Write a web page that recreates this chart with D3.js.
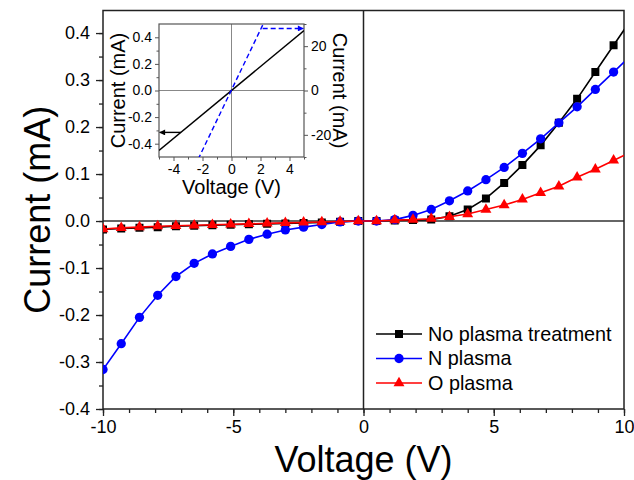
<!DOCTYPE html>
<html><head><meta charset="utf-8">
<script src="https://cdn.jsdelivr.net/npm/d3@7"></script>
<style>body{margin:0;background:#fff} text{font-family:Arial,"Liberation Sans",sans-serif;fill:#000}</style>
</head><body><svg id="c" width="634" height="480"></svg>
<script>
// ---- Main chart data ----
const voltage = [-10,-9.3,-8.6,-7.9,-7.2,-6.5,-5.8,-5.1,-4.4,-3.7,-3.0,-2.3,-1.6,-0.9,-0.2,
                 0.5,1.2,1.9,2.6,3.3,4.0,4.7,5.4,6.1,6.8,7.5,8.2,8.9,9.6,10.3];
const noPlasma = [-0.018,-0.016,-0.0145,-0.013,-0.011,-0.010,-0.009,-0.008,-0.007,-0.006,-0.005,-0.004,-0.003,-0.0015,0.000,
                  0.000,0.001,0.002,0.003,0.010,0.0245,0.048,0.081,0.119,0.161,0.209,0.260,0.317,0.374,0.431];
const nPlasma = [-0.316,-0.261,-0.205,-0.158,-0.118,-0.090,-0.070,-0.054,-0.039,-0.028,-0.019,-0.013,-0.0075,-0.002,0.000,
                 0.000,0.003,0.012,0.0245,0.043,0.064,0.088,0.114,0.144,0.175,0.209,0.243,0.280,0.317,0.354];
const oPlasma = [-0.017,-0.0145,-0.013,-0.011,-0.010,-0.009,-0.008,-0.007,-0.006,-0.005,-0.004,-0.003,-0.002,-0.001,0.000,
                 0.000,0.002,0.003,0.005,0.009,0.015,0.0245,0.034,0.046,0.060,0.074,0.093,0.110,0.129,0.148];
const seriesNames = ["No plasma treatment","N plasma","O plasma"];
const xTicks = [-10,-5,0,5,10];
const yTicks = [-0.4,-0.3,-0.2,-0.1,0.0,0.1,0.2,0.3,0.4];

// ---- Inset data ----
const insetV = [-5, 5];
const insetI = [-0.45, 0.45];          // left axis (mA)
const insetBlueV = [-2.3, 2.15];
const insetBlueI = [-31, 29.5];        // right axis (mA)
const insetXTicks = [-4,-2,0,2,4];
const insetYTicks = [-0.4,-0.2,0.0,0.2,0.4];
const insetY2Ticks = [-20,0,20];

const svg = d3.select("#c");
const L=103, R=624, T=10.5, B=409;
const x = d3.scaleLinear().domain([-10,10]).range([L,R]);
const y = d3.scaleLinear().domain([-0.4,0.448]).range([B,T]);

svg.append("defs").append("clipPath").attr("id","clip")
  .append("rect").attr("x",L).attr("y",T).attr("width",R-L).attr("height",B-T);

const axCol="#222";
// zero lines
svg.append("line").attr("x1",L).attr("x2",R).attr("y1",y(0)).attr("y2",y(0)).attr("stroke","#333").attr("stroke-width",1.5);
svg.append("line").attr("x1",x(0)).attr("x2",x(0)).attr("y1",T).attr("y2",B).attr("stroke","#222").attr("stroke-width",1.5);

// axes
function styleAxis(g){ g.select(".domain").remove(); g.selectAll("line").attr("stroke",axCol).attr("stroke-width",1.3); }
svg.append("g").attr("transform",`translate(0,${B})`)
  .call(d3.axisBottom(x).tickValues(d3.range(-10,11,1)).tickSize(4).tickFormat("")).call(styleAxis);
svg.append("g").attr("transform",`translate(0,${B})`)
  .call(d3.axisBottom(x).tickValues(xTicks).tickSize(7).tickPadding(4).tickFormat(d=>String(d))).call(styleAxis)
  .selectAll("text").attr("font-size","18px");
svg.append("g").attr("transform",`translate(${L},0)`)
  .call(d3.axisLeft(y).tickValues(d3.range(-8,9,1).map(d=>d*0.05)).tickSize(4).tickFormat("")).call(styleAxis);
svg.append("g").attr("transform",`translate(${L},0)`)
  .call(d3.axisLeft(y).tickValues(yTicks).tickSize(7).tickPadding(6).tickFormat(d=>d.toFixed(1))).call(styleAxis)
  .selectAll("text").attr("font-size","18px");
// frame
svg.append("rect").attr("x",L).attr("y",T).attr("width",R-L).attr("height",B-T)
  .attr("fill","none").attr("stroke",axCol).attr("stroke-width",1.5);

// titles
svg.append("text").attr("x",(L+R)/2).attr("y",472).attr("text-anchor","middle").attr("font-size","36px").text("Voltage (V)");
svg.append("text").attr("transform",`translate(50,${(T+B)/2}) rotate(-90)`).attr("text-anchor","middle").attr("font-size","36px").text("Current (mA)");

// series
const series = [
  {name:seriesNames[0], vals:noPlasma, color:"#000000", sym:d3.symbolSquare, size:64},
  {name:seriesNames[1], vals:nPlasma, color:"#0000ff", sym:d3.symbolCircle, size:68},
  {name:seriesNames[2], vals:oPlasma, color:"#ff0000", sym:d3.symbolTriangle, size:52}
];
const plot = svg.append("g").attr("clip-path","url(#clip)");
const line = d3.line().x(d=>x(d[0])).y(d=>y(d[1]));
series.forEach(s=>{
  const pts = voltage.map((v,i)=>[v,s.vals[i]]);
  const g = plot.append("g");
  g.append("path").datum(pts).attr("d",line).attr("fill","none").attr("stroke",s.color).attr("stroke-width",1.6);
  g.selectAll("path.m").data(pts).enter().append("path").attr("class","m")
    .attr("transform",d=>`translate(${x(d[0])},${y(d[1])})`)
    .attr("d",d3.symbol().type(s.sym).size(s.size)).attr("fill",s.color);
});

// legend
series.forEach((s,i)=>{
  const yy = 334 + i*24.5;
  svg.append("line").attr("x1",376).attr("x2",422).attr("y1",yy).attr("y2",yy).attr("stroke",s.color).attr("stroke-width",1.6);
  svg.append("path").attr("transform",`translate(399,${yy})`).attr("d",d3.symbol().type(s.sym).size(s.size)).attr("fill",s.color);
  svg.append("text").attr("x",428).attr("y",yy).attr("dy","0.35em").attr("font-size","19.8px").text(s.name);
});

// ---- inset ----
const iL=159, iR=304, iT=24, iB=157;
const ix = d3.scaleLinear().domain([-5,5]).range([iL,iR]);
const iy = d3.scaleLinear().domain([-0.5,0.5]).range([iB,iT]);
const iy2 = d3.scaleLinear().domain([-30,30]).range([iB,iT]);
const inset = svg.append("g");
inset.append("rect").attr("x",iL).attr("y",iT).attr("width",iR-iL).attr("height",iB-iT).attr("fill","#fff");
svg.select("defs").append("clipPath").attr("id","iclip")
  .append("rect").attr("x",iL).attr("y",iT).attr("width",iR-iL).attr("height",iB-iT);
inset.append("line").attr("x1",iL).attr("x2",iR).attr("y1",iy(0)).attr("y2",iy(0)).attr("stroke","#888").attr("stroke-width",1);
inset.append("line").attr("x1",ix(0)).attr("x2",ix(0)).attr("y1",iT).attr("y2",iB).attr("stroke","#888").attr("stroke-width",1);
const icol="#555";
function iStyle(g){ g.select(".domain").remove(); g.selectAll("line").attr("stroke",icol).attr("stroke-width",1); g.selectAll("text").attr("font-size","14px"); }
inset.append("g").attr("transform",`translate(0,${iB})`).call(d3.axisBottom(ix).tickValues([-5,-3,-1,1,3,5]).tickSize(2.5).tickFormat("")).call(iStyle);
inset.append("g").attr("transform",`translate(0,${iB})`).call(d3.axisBottom(ix).tickValues(insetXTicks).tickSize(4).tickPadding(3).tickFormat(d=>String(d))).call(iStyle);
inset.append("g").attr("transform",`translate(${iL},0)`).call(d3.axisLeft(iy).tickValues([-0.3,-0.1,0.1,0.3]).tickSize(2.5).tickFormat("")).call(iStyle);
inset.append("g").attr("transform",`translate(${iL},0)`).call(d3.axisLeft(iy).tickValues(insetYTicks).tickSize(4).tickPadding(3).tickFormat(d=>d.toFixed(1))).call(iStyle);
inset.append("g").attr("transform",`translate(${iR},0)`).call(d3.axisRight(iy2).tickValues([-30,-10,10,30]).tickSize(2.5).tickFormat("")).call(iStyle);
inset.append("g").attr("transform",`translate(${iR},0)`).call(d3.axisRight(iy2).tickValues(insetY2Ticks).tickSize(4).tickPadding(3).tickFormat(d=>String(d))).call(iStyle);
inset.append("rect").attr("x",iL).attr("y",iT).attr("width",iR-iL).attr("height",iB-iT).attr("fill","none").attr("stroke",icol).attr("stroke-width",1.2);

const ig = inset.append("g").attr("clip-path","url(#iclip)");
ig.append("path").datum(insetV.map((v,i)=>[v,insetI[i]])).attr("d",d3.line().x(d=>ix(d[0])).y(d=>iy(d[1])))
  .attr("fill","none").attr("stroke","#000").attr("stroke-width",1.4);
ig.append("path").datum(insetBlueV.map((v,i)=>[v,insetBlueI[i]])).attr("d",d3.line().x(d=>ix(d[0])).y(d=>iy2(d[1])))
  .attr("fill","none").attr("stroke","#0000ff").attr("stroke-width",1.4).attr("stroke-dasharray","5,3");
// arrows indicating axes
const defs = svg.select("defs");
defs.append("marker").attr("id","ab").attr("viewBox","0 0 10 10").attr("refX",9).attr("refY",5)
  .attr("markerWidth",7).attr("markerHeight",6).attr("orient","auto").attr("markerUnits","userSpaceOnUse")
  .append("path").attr("d","M0,0L10,5L0,10Z").attr("fill","#000");
defs.append("marker").attr("id","abl").attr("viewBox","0 0 10 10").attr("refX",9).attr("refY",5)
  .attr("markerWidth",7).attr("markerHeight",6).attr("orient","auto").attr("markerUnits","userSpaceOnUse")
  .append("path").attr("d","M0,0L10,5L0,10Z").attr("fill","#0000ff");
inset.append("line").attr("x1",ix(-3.5)).attr("x2",ix(-4.95)).attr("y1",iy(-0.315)).attr("y2",iy(-0.315))
  .attr("stroke","#000").attr("stroke-width",1.4).attr("marker-end","url(#ab)");
inset.append("line").attr("x1",ix(2.15)).attr("x2",ix(4.95)).attr("y1",iy2(28)).attr("y2",iy2(28))
  .attr("stroke","#0000ff").attr("stroke-width",1.4).attr("stroke-dasharray","5,3").attr("marker-end","url(#abl)");
// inset titles
inset.append("text").attr("x",(iL+iR)/2).attr("y",194).attr("text-anchor","middle").attr("font-size","20px").text("Voltage (V)");
inset.append("text").attr("transform",`translate(125,${(iT+iB)/2}) rotate(-90)`).attr("text-anchor","middle").attr("font-size","20px").text("Current (mA)");
inset.append("text").attr("transform",`translate(333,${(iT+iB)/2}) rotate(90)`).attr("text-anchor","middle").attr("font-size","20px").text("Current (mA)");
</script></body></html>
